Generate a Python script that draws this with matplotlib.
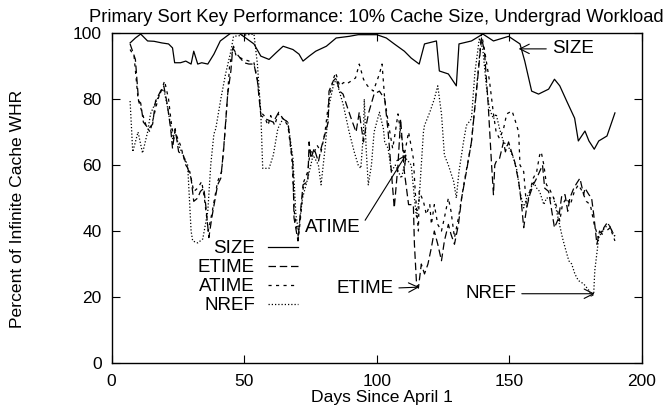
import matplotlib
matplotlib.use("Agg")
import matplotlib.pyplot as plt

plt.rcParams['font.family'] = ['Liberation Sans', 'DejaVu Sans']

size_days = [7, 9, 11, 13.6, 16, 19, 21.5, 23, 23.8, 26, 28, 30, 31, 32.5, 34, 36.3, 38.6,
             41, 45, 48, 53.7, 56.3, 59.4, 62, 64.7, 68.4, 70.7, 72.2, 74.5, 77, 81, 84.7,
             89.6, 93, 96, 100, 103.6, 106.6, 110.4, 113, 116, 118, 122.5, 123.6, 127, 130,
             131, 135.7, 140, 144, 149.7, 154, 155.8, 158.4, 161, 164.8, 167, 169, 171.6,
             174.6, 176, 178.5, 180, 182, 183.7, 186.8, 189.8]
size_vals = [97, 98.5, 99.7, 97.6, 97.5, 97, 96.7, 95.5, 91, 91, 91.5, 90.6, 94.5, 90.6, 91,
             90.6, 93.6, 97.6, 100, 100, 96.7, 93, 92, 94, 96, 95, 93.6, 91.5, 93, 94.5, 96,
             98.5, 99, 99.5, 99.5, 99.5, 98.5, 96.7, 94.5, 92.4, 90.6, 96.7, 97.6, 88.5, 87.6,
             84, 96.7, 97.6, 99.7, 97.6, 99, 96.7, 91.5, 82.4, 81.5, 83, 86, 84, 79.4, 74.2,
             67.3, 70.3, 67.3, 64.8, 67.3, 68.8, 75.8]

etime_days = [7, 9, 10.2, 11, 12, 14, 15.5, 16.6, 18.5, 19.7, 21, 22.3, 23, 24, 25.3, 27, 30,
              31, 32.5, 33.5, 34.8, 35.5, 36.7, 37.8, 40, 41.2, 42.3, 43.8, 45, 45.7, 46.9,
              50, 51.8, 53.7, 55, 56.3, 58, 61, 62.7, 64.7, 66.5, 68.4, 68.8, 70.3, 70.8,
              72.2, 74, 74.5, 75.2, 76.4, 78, 79, 81.7, 82, 83.6, 84.7, 86, 87.3, 88.5, 90.4,
              92.2, 93.4, 95, 96, 97, 99, 101, 103, 104.3, 105.5, 106.6, 108, 109, 110.4, 112,
              113.8, 114.2, 115, 115.7, 116.8, 118, 119.3, 120.6, 121.7, 123, 124.4, 125.5,
              127, 128, 129.3, 130.8, 132, 133.8, 135.7, 137.6, 139.5, 140.6, 142, 143.3, 144,
              144.5, 145, 146.3, 147.8, 148.5, 149.7, 150.8, 152, 153.5, 154.6, 155.4, 156.5,
              157.7, 159, 160.3, 161.4, 162.5, 163.3, 164.8, 166, 167, 168.6, 169.8, 171, 172,
              172.8, 174.3, 175.4, 176.6, 178, 178.5, 180, 181, 181.8, 183, 184, 185, 185.6,
              186.8, 187.5, 188.7, 189.8]
etime_vals = [96.7, 92, 79.4, 78.8, 73, 71, 72.4, 79.4, 82.4, 84, 78.5, 71, 65, 71, 64, 63, 56,
              49, 50, 52, 53, 48, 38, 44, 54, 56, 65, 81.5, 88.5, 95.5, 94, 91, 90.6, 90.6,
              85.5, 75, 74, 73, 75.5, 74, 73, 60, 44, 37, 42, 54, 55, 67, 62, 65, 61, 65, 73,
              82.4, 85.5, 86.4, 82.4, 81.5, 78.5, 74, 70, 76, 67, 72, 76, 81.5, 82.4, 80, 70,
              58, 47, 60, 74, 58, 48, 48, 36, 24, 22.7, 30, 27, 30, 35, 40, 36, 31, 37, 42, 39,
              36, 42, 50, 58, 67, 82.4, 98.5, 94.5, 78.5, 60, 51, 60, 61, 62, 67, 64, 67, 64,
              61, 55, 48, 41, 47, 51, 54, 56, 58, 60, 53, 52, 46, 41, 44, 51, 51, 46, 50, 53,
              54.5, 56, 51, 53, 51, 50, 45, 36, 40, 39, 41, 42.4, 42, 40, 38.5]

atime_days = [7, 8.5, 10, 11.5, 13, 14.5, 16, 17.5, 19, 20, 21.5, 22.5, 23.5, 24.5, 26, 28,
              29.5, 31, 32.5, 34, 35, 36.5, 38, 40, 41.5, 43, 44.5, 46, 47, 50, 53.7, 55, 56.3,
              57.5, 59, 60, 61.5, 63, 64.7, 66.5, 68, 69, 70.5, 71.5, 72.5, 74, 75, 76, 77.5,
              79, 80.5, 82, 83.6, 84.5, 86, 87.5, 88.5, 90.4, 92, 93.4, 95, 96.5, 98.7, 101,
              102, 103, 104.5, 106, 107, 108, 109, 110.4, 112, 113.8, 114.5, 115.7, 116, 117.6,
              118.7, 120, 120.6, 121.7, 123, 124.4, 125.5, 127, 128, 129.3, 130.8, 132, 133,
              134.6, 135.7, 137.6, 139.5, 140.6, 142.5, 144, 145, 146.3, 147.8, 149, 151, 152,
              153.5, 154, 155.4, 156.5, 157.7, 159, 160.3, 161.4, 162, 163, 164, 165, 166.7,
              168, 169, 170, 171.5, 173, 174.5, 176, 177.5, 179, 180.5, 182, 183.5, 185, 186.5,
              188, 189.8]
atime_vals = [95, 93, 80, 76, 72, 70, 75, 80, 83, 85.5, 80, 73, 68, 69, 66, 60, 58, 52, 53, 55,
              50, 40, 46, 55, 58, 72, 90, 96, 93, 92, 91, 86, 76, 75, 72, 75, 72, 76, 74, 72,
              62, 45, 38, 46, 55, 58, 65, 63, 66, 64, 70, 80, 86, 88, 84, 85, 84.5, 85.5, 86.4,
              90.6, 86, 84, 82.4, 87.6, 90.6, 80, 72, 65, 70, 75.5, 70, 63, 70, 62, 52, 40, 52,
              49, 45, 48, 42, 48, 42, 40, 44, 50, 46, 38, 44, 50, 55, 62, 67, 83, 99.7, 95,
              85.5, 75.5, 70, 68, 71, 75.5, 76.4, 74, 70, 60, 58, 47, 52, 56, 58, 63, 64, 60,
              54, 53, 50, 47, 43, 48, 50, 48, 52, 54, 52, 49, 48, 42, 38, 40, 40, 41, 37]

nref_days = [7, 8, 10, 11.7, 13.6, 14.7, 16.6, 18.5, 19.7, 21, 22.3, 23, 24, 25.3, 27, 28.7,
             30, 30.6, 32.5, 34.4, 36.3, 37.4, 38.6, 39.3, 41.2, 43, 45, 46, 53.7, 55, 56.3,
             57, 59.4, 61, 62.7, 64.6, 66.5, 68.4, 69.5, 70.5, 72, 74, 76, 78, 79, 80.5, 82,
             83.6, 84.7, 86, 87.3, 89.6, 91.5, 93, 94, 95, 95.3, 96, 96.8, 98, 99, 101, 102.5,
             103, 104.3, 105.5, 107, 109.3, 111, 113, 114.2, 115, 116, 117.6, 118, 120, 121.7,
             123, 124.4, 125.5, 127, 129, 130, 131, 132.7, 133.8, 135.7, 137, 138.7, 140,
             141.4, 142.5, 144, 145, 146.3, 147.8, 149, 150, 151.6, 152.7, 154, 155.4, 156.5,
             157.7, 159, 160.3, 161.4, 163, 164, 165, 166.7, 168.6, 170, 171, 172.4, 173.5,
             174.7, 176, 178, 180, 181, 181.8, 182.2, 183.7, 185, 186, 187.5, 188.7, 190]
nref_vals = [79.4, 64, 70, 63.6, 70, 75.5, 79, 82, 83, 78, 72, 68, 70, 66, 63, 60, 40, 37,
             36.4, 37.6, 46, 60, 69.4, 71, 80, 87.6, 94.5, 99, 99.7, 90.6, 75.5, 59, 59, 63,
             71, 74, 73, 62, 45, 40, 50, 56, 63, 60, 54, 65, 78, 84, 86, 82, 78.5, 70, 64, 60,
             59, 70, 80, 65, 54, 60, 70, 76, 71, 67, 65, 58, 60, 56, 62, 60, 50, 44, 50, 70,
             72, 76, 80, 84, 75.5, 63, 60, 55, 50, 58, 67, 72, 74, 88, 98.5, 95, 83.3, 77, 74,
             75.5, 71, 67, 66, 65, 62, 59, 52, 47, 50, 52, 55, 53, 52, 48, 50, 50, 50, 43, 38,
             35, 31, 30, 27, 25, 24, 22, 20, 21, 28, 38, 40, 41, 42, 40, 38]

fig = plt.figure(figsize=(6.67, 4.13), dpi=100)
ax = fig.add_axes([0.1672, 0.121, 0.7953, 0.799])

lw = 0.9
ax.plot(size_days, size_vals, color='k', lw=lw, linestyle='-', label='SIZE')
ax.plot(etime_days, etime_vals, color='k', lw=lw, linestyle=(0, (6, 3)), label='ETIME')
ax.plot(atime_days, atime_vals, color='k', lw=lw, linestyle=(0, (2.5, 3.5)), label='ATIME')
ax.plot(nref_days, nref_vals, color='k', lw=lw, linestyle=(0, (1, 1.6)), label='NREF')

ax.set_xlim(0, 200)
ax.set_ylim(0, 100)
ax.set_xticks([0, 50, 100, 150, 200])
ax.set_yticks([0, 20, 40, 60, 80, 100])
ax.tick_params(direction='in', top=True, right=True, length=6, labelsize=12.5)
ax.tick_params(axis='x', pad=8)
ax.tick_params(axis='y', pad=7)
for s in ax.spines.values():
    s.set_linewidth(1.0)

ax.set_title('Primary Sort Key Performance: 10% Cache Size, Undergrad Workload', fontsize=13.2, pad=8)
ax.set_xlabel('Days Since April 1', fontsize=12.6)
ax.set_ylabel('Percent of Infinite Cache WHR', fontsize=12.6)
ax.xaxis.set_label_coords(0.51, -0.082)
ax.yaxis.set_label_coords(-0.164, 0.467)

leg = ax.legend(loc='upper right', bbox_to_anchor=(0.352, 0.372), frameon=False, markerfirst=False,
                fontsize=13.5, handlelength=1.6, handletextpad=0.7, labelspacing=0.1,
                borderpad=0, borderaxespad=0)

ap = dict(arrowstyle='->,head_length=0.5,head_width=0.25', color='k', lw=0.8, shrinkA=2, shrinkB=0)
ax.annotate('SIZE', xy=(153.5, 95.2), xytext=(166, 95.2), fontsize=13.5, ha='left', va='center',
            arrowprops=dict(ap, relpos=(0, 0.5)))
ax.annotate('ATIME', xy=(111.2, 63.3), xytext=(83.5, 41.2), fontsize=13.5, ha='center', va='center',
            arrowprops=dict(ap, relpos=(1, 0.5)))
ax.annotate('ETIME', xy=(116, 23), xytext=(95.5, 22.7), fontsize=13.5, ha='center', va='center',
            arrowprops=dict(ap, relpos=(1, 0.5)))
ax.annotate('NREF', xy=(182.2, 21), xytext=(143, 21), fontsize=13.5, ha='center', va='center',
            arrowprops=dict(ap, relpos=(1, 0.5)))

fig.savefig('out.png', dpi=100)
